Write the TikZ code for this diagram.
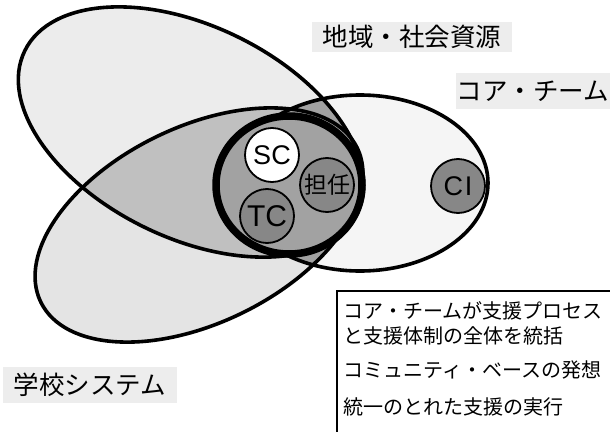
\documentclass[tikz,border=0pt]{standalone}
\usepackage{fontspec}
\newfontfamily\jp{Noto Sans CJK JP}
\newfontfamily\lat{Liberation Sans}
\definecolor{gA}{HTML}{ECECEC}
\definecolor{gB}{HTML}{E4E4E4}
\definecolor{gC}{HTML}{F5F5F5}
\definecolor{lensgray}{HTML}{C0C0C0}
\definecolor{coregray}{HTML}{A2A2A2}
\definecolor{memgray}{HTML}{878787}
\definecolor{lblbg}{HTML}{EDEDED}
\begin{document}
\begin{tikzpicture}[x=1pt,y=-1pt,
  eA/.style={rotate around={-26:(191,132)}},
  eB/.style={rotate around={26:(199,225)}},
  outline/.style={line width=3.6pt},
  member/.style={circle, draw, line width=1.8pt, minimum size=54pt, inner sep=0pt, fill=memgray},
  lbl/.style={fill=lblbg, inner sep=0pt, font=\jp\fontsize{25.5}{26}\selectfont},
  boxtext/.style={anchor=west, inner sep=0pt, font=\jp\fontsize{20}{22}\selectfont}
]
\useasboundingbox (0,0) rectangle (610,431);
\fill[white] (0,0) rectangle (610,431);
% base fills
\fill[gA, eA] (191,132) ellipse [x radius=185pt, y radius=106pt];
\fill[gB, eB] (199,225) ellipse [x radius=176pt, y radius=98pt];
\fill[gC] (360,183) ellipse [x radius=128pt, y radius=88pt];
% lens E1 and E2
\begin{scope}
  \clip[eA] (191,132) ellipse [x radius=185pt, y radius=106pt];
  \fill[lensgray, eB] (199,225) ellipse [x radius=176pt, y radius=98pt];
\end{scope}
% core team overlaps
\begin{scope}
  \clip (360,183) ellipse [x radius=128pt, y radius=88pt];
  \fill[coregray, eA] (191,132) ellipse [x radius=185pt, y radius=106pt];
  \fill[coregray, eB] (199,225) ellipse [x radius=176pt, y radius=98pt];
\end{scope}
% outlines
\draw[outline, eA] (191,132) ellipse [x radius=185pt, y radius=106pt];
\draw[outline, eB] (199,225) ellipse [x radius=176pt, y radius=98pt];
\draw[outline] (360,183) ellipse [x radius=128pt, y radius=88pt];
% thick core circle
\draw[line width=7.5pt, fill=coregray] (289,185) ellipse [x radius=73pt, y radius=69pt];
% members
\node[member, fill=white, font=\lat\fontsize{27}{27}\selectfont] (sc) at (272,155) {SC};
\node[member, font=\jp\fontsize{23}{23}\selectfont] (tannin) at (327,185) {担任};
\node[member, font=\lat\fontsize{30}{30}\selectfont] (tc) at (267,216) {TC};
\node[member, font=\lat\fontsize{27}{27}\selectfont] (ci) at (458,186) {C\kern2pt I};
% labels
\node[lbl, minimum width=200pt, minimum height=30pt] (chiiki) at (412,37) {地域・社会資源};
\node[lbl, minimum width=155pt, minimum height=36pt] (core) at (533,91) {コア・チーム};
\node[lbl, minimum width=174pt, minimum height=36pt] (gakko) at (90,385) {学校システム};
% text box
\draw[line width=1.2pt, fill=white] (337,291) rectangle (616,437);
\node[boxtext] (t1) at (343,311) {コア・チームが支援プロセス};
\node[boxtext] (t2) at (343,336) {と支援体制の全体を統括};
\node[boxtext] (t3) at (343,370) {コミュニティ・ベースの発想};
\node[boxtext] (t4) at (343,407) {統一のとれた支援の実行};
\end{tikzpicture}
\end{document}
